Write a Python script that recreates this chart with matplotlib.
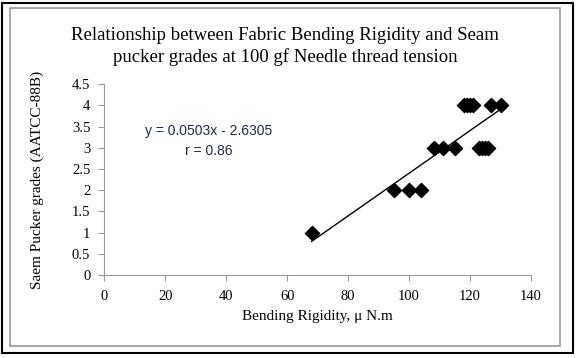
import matplotlib.pyplot as plt
from matplotlib.patches import Rectangle

bending_rigidity = [68, 95, 100, 104, 108, 111, 115, 123, 124, 125, 126,
                    118, 119, 120, 121, 127, 130]
pucker_grade = [1, 2, 2, 2, 3, 3, 3, 3, 3, 3, 3,
                4, 4, 4, 4, 4, 4]
slope = 0.0503
intercept = -2.6305
fit_range = [68, 130]
x_ticks = [0, 20, 40, 60, 80, 100, 120, 140]
y_ticks = [0, 0.5, 1, 1.5, 2, 2.5, 3, 3.5, 4, 4.5]

serif = ['Liberation Serif', 'DejaVu Serif']

fig = plt.figure(figsize=(5.76, 3.58), dpi=100)
ax = fig.add_axes([0.181, 0.232, 0.741, 0.533])

ax.scatter(bending_rigidity, pucker_grade, marker='D', s=52, color='black', zorder=3)
fit_y = [slope * x + intercept for x in fit_range]
ax.plot(fit_range, fit_y, color='black', lw=1)

ax.set_xlim(0, 140)
ax.set_ylim(0, 4.5)
ax.set_xticks(x_ticks)
ax.set_yticks(y_ticks)
ax.set_xticklabels([str(t) for t in x_ticks], family=serif, fontsize=10.5)
ax.set_yticklabels([f'{t:g}' for t in y_ticks], family=serif, fontsize=10.5)
ax.tick_params(direction='out', length=4, color='#999999', width=0.8)
ax.tick_params(axis='x', pad=7)
ax.tick_params(axis='y', pad=6)
for side in ['top', 'right']:
    ax.spines[side].set_visible(False)
for side in ['left', 'bottom']:
    ax.spines[side].set_color('#999999')
    ax.spines[side].set_linewidth(0.8)

ax.set_xlabel('Bending Rigidity, μ N.m', family=serif, fontsize=11, labelpad=5)
ax.set_ylabel('Saem Pucker grades (AATCC-88B)', family=serif, fontsize=11, labelpad=20)

fig.text(0.495, 0.87, 'Relationship between Fabric Bending Rigidity and Seam\n'
         'pucker grades at 100 gf Needle thread tension',
         ha='center', va='center', family=serif, fontsize=13.5, linespacing=1.25)

ax.text(0.245, 0.70, f'y = {slope}x - {abs(intercept)}\nr = 0.86', transform=ax.transAxes,
        ha='center', va='center', color='#1f2a44', fontsize=10,
        family=['Liberation Sans', 'DejaVu Sans'], linespacing=1.55)

# chart frame: black outer border, grey inner border
fig.patches.append(Rectangle((0.0035, 0.014), 0.9913, 0.9776, transform=fig.transFigure,
                             fill=False, edgecolor='black', lw=1.5))
fig.patches.append(Rectangle((0.0174, 0.0335), 0.9546, 0.9442, transform=fig.transFigure,
                             fill=False, edgecolor='#999999', lw=1.2))

fig.savefig('out.png', dpi=100)
